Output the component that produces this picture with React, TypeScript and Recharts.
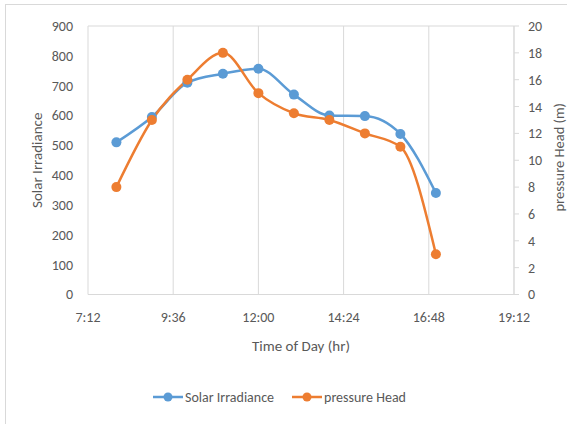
import { LineChart, Line, XAxis, YAxis, CartesianGrid, Legend } from 'recharts';

const times = ['8:00', '9:00', '10:00', '11:00', '12:00', '13:00', '14:00', '15:00', '16:00', '17:00'];
const solarIrradiance = [510, 595, 710, 740, 757, 670, 600, 598, 538, 340];
const pressureHead = [8, 13, 16, 18, 15, 13.5, 13, 12, 11, 3];

const xTicks = ['7:12', '9:36', '12:00', '14:24', '16:48', '19:12'];
const leftTicks = [0, 100, 200, 300, 400, 500, 600, 700, 800, 900];
const rightTicks = [0, 2, 4, 6, 8, 10, 12, 14, 16, 18, 20];

const BLUE = '#5B9BD5';
const ORANGE = '#ED7D31';
const GRID = '#D9D9D9';
const TEXT = '#595959';
const FONT = "Carlito, Calibri, Lato, sans-serif";

const toMin = (t: string) => {
  const [h, m] = t.split(':').map(Number);
  return h * 60 + m;
};
const fmt = (v: number) => `${Math.floor(v / 60)}:${String(v % 60).padStart(2, '0')}`;

const data = times.map((t, i) => ({ t: toMin(t), solar: solarIrradiance[i], head: pressureHead[i] }));

function LegendContent() {
  const item = (color: string, label: string) => (
    <span style={{ display: 'inline-flex', alignItems: 'center', marginRight: 18 }}>
      <svg width={30} height={12} style={{ marginRight: 2 }}>
        <line x1={0} y1={6} x2={30} y2={6} stroke={color} strokeWidth={2.5} />
        <circle cx={15} cy={6} r={4.5} fill={color} />
      </svg>
      <span>{label}</span>
    </span>
  );
  return (
    <div style={{ textAlign: 'center', fontFamily: FONT, fontSize: 14, color: TEXT, paddingLeft: 10 }}>
      {item(BLUE, 'Solar Irradiance')}
      {item(ORANGE, 'pressure Head')}
    </div>
  );
}

export default function App() {
  return (
    <div style={{ position: 'fixed', left: 0, top: 0, width: 567, height: 424, background: '#fff', overflow: 'hidden' }}>
      <div style={{ position: 'absolute', left: 5, top: 4, width: 700, height: 600, borderLeft: `1px solid ${GRID}`, borderTop: `1px solid ${GRID}` }} />
      <LineChart width={567} height={424} data={data} margin={{ top: 26, right: 0, left: 0, bottom: 17 }} style={{ position: 'absolute', left: 0, top: 0 }}>
        <CartesianGrid stroke={GRID} strokeWidth={1} />
        <XAxis
          dataKey="t"
          type="number"
          domain={[toMin(xTicks[0]), toMin(xTicks[xTicks.length - 1])]}
          ticks={xTicks.map(toMin)}
          tickFormatter={fmt}
          tickLine={false}
          axisLine={{ stroke: GRID }}
          tick={{ fill: TEXT, fontSize: 14, fontFamily: FONT }}
          tickMargin={12}
          height={94}
          label={{ value: 'Time of Day (hr)', position: 'insideTop', offset: 46, fill: TEXT, fontSize: 15, fontFamily: FONT }}
        />
        <YAxis
          yAxisId="left"
          domain={[0, 900]}
          ticks={leftTicks}
          tickLine={false}
          axisLine={false}
          width={88}
          tickMargin={9}
          tick={{ fill: TEXT, fontSize: 14, fontFamily: FONT }}
          label={{ value: 'Solar Irradiance', angle: -90, position: 'center', dx: -7, fill: TEXT, fontSize: 15, fontFamily: FONT }}
        />
        <YAxis
          yAxisId="right"
          orientation="right"
          domain={[0, 20]}
          ticks={rightTicks}
          tickSize={5}
          tickLine={{ stroke: GRID }}
          axisLine={{ stroke: GRID }}
          width={53}
          tickMargin={9}
          tick={{ fill: TEXT, fontSize: 14, fontFamily: FONT }}
          label={{ value: 'pressure Head (m)', angle: -90, position: 'center', dx: 18, dy: -3, fill: TEXT, fontSize: 14.5, fontFamily: FONT }}
        />
        <Legend verticalAlign="bottom" content={<LegendContent />} />
        <Line yAxisId="left" type="monotone" dataKey="solar" name="Solar Irradiance" stroke={BLUE} strokeWidth={2.5} dot={{ r: 5, fill: BLUE, stroke: BLUE, strokeWidth: 0 }} isAnimationActive={false} />
        <Line yAxisId="right" type="monotone" dataKey="head" name="pressure Head" stroke={ORANGE} strokeWidth={2.5} dot={{ r: 5, fill: ORANGE, stroke: ORANGE, strokeWidth: 0 }} isAnimationActive={false} />
      </LineChart>
    </div>
  );
}
